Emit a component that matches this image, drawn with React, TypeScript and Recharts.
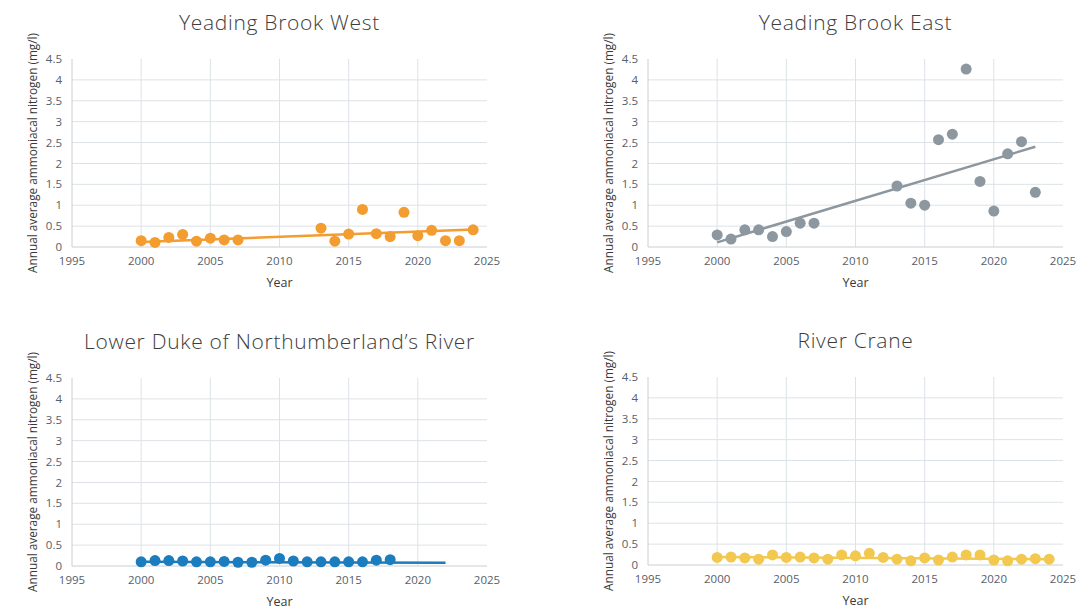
import React from 'react';
import { ScatterChart, Scatter, XAxis, YAxis, ZAxis, CartesianGrid } from 'recharts';

// ---- Data ----
const westYears = [2000, 2001, 2002, 2003, 2004, 2005, 2006, 2007, 2013, 2014, 2015, 2016, 2017, 2018, 2019, 2020, 2021, 2022, 2023, 2024];
const westValues = [0.15, 0.11, 0.23, 0.30, 0.14, 0.21, 0.17, 0.17, 0.45, 0.14, 0.31, 0.90, 0.32, 0.25, 0.83, 0.27, 0.40, 0.15, 0.15, 0.41];
const westTrendYears = [2000, 2024];
const westTrendValues = [0.12, 0.42];

const eastYears = [2000, 2001, 2002, 2003, 2004, 2005, 2006, 2007, 2013, 2014, 2015, 2016, 2017, 2018, 2019, 2020, 2021, 2022, 2023];
const eastValues = [0.29, 0.19, 0.41, 0.41, 0.25, 0.37, 0.57, 0.57, 1.46, 1.05, 1.00, 2.57, 2.70, 4.26, 1.57, 0.86, 2.23, 2.52, 1.31];
const eastTrendYears = [2000, 2023];
const eastTrendValues = [0.11, 2.40];

const dukeYears = [2000, 2001, 2002, 2003, 2004, 2005, 2006, 2007, 2008, 2009, 2010, 2011, 2012, 2013, 2014, 2015, 2016, 2017, 2018];
const dukeValues = [0.10, 0.13, 0.13, 0.12, 0.10, 0.10, 0.11, 0.09, 0.09, 0.14, 0.18, 0.12, 0.10, 0.10, 0.10, 0.10, 0.10, 0.14, 0.15];
const dukeTrendYears = [2000, 2022];
const dukeTrendValues = [0.10, 0.08];

const craneYears = [2000, 2001, 2002, 2003, 2004, 2005, 2006, 2007, 2008, 2009, 2010, 2011, 2012, 2013, 2014, 2015, 2016, 2017, 2018, 2019, 2020, 2021, 2022, 2023, 2024];
const craneValues = [0.18, 0.19, 0.17, 0.14, 0.24, 0.18, 0.19, 0.17, 0.14, 0.24, 0.22, 0.28, 0.18, 0.14, 0.10, 0.17, 0.12, 0.19, 0.24, 0.24, 0.12, 0.10, 0.14, 0.15, 0.14];
const craneTrendYears = [2000, 2024];
const craneTrendValues = [0.19, 0.14];

const xTicks = [1995, 2000, 2005, 2010, 2015, 2020, 2025];
const yTicks = [0, 0.5, 1, 1.5, 2, 2.5, 3, 3.5, 4, 4.5];
const gridX = [2000, 2005, 2010, 2015, 2020];
const gridY = [0.5, 1, 1.5, 2, 2.5, 3, 3.5, 4];

const toPoints = (xs: number[], ys: number[]) => xs.map((x, i) => ({ x, y: ys[i] }));

const FONT = '"Open Sans", "DejaVu Sans", sans-serif';

type PanelProps = {
  title: string;
  left: number;
  top: number;
  color: string;
  points: { x: number; y: number }[];
  trend: { x: number; y: number }[];
};

const Panel = ({ title, left, top, color, points, trend }: PanelProps) => {
  const W = 520;
  const H = 305;
  return (
    <div style={{ position: 'absolute', left, top, width: W, height: H }}>
      <div
        style={{
          position: 'absolute',
          left: 52,
          width: 455,
          top: 9,
          textAlign: 'center',
          fontFamily: FONT,
          fontSize: 21,
          fontWeight: 300,
          letterSpacing: '0.7px',
          lineHeight: '26px',
          color: '#3d3d3d',
          whiteSpace: 'nowrap',
        }}
      >
        {title}
      </div>
      <ScatterChart width={W} height={H} margin={{ top: 59, right: 33, left: 32, bottom: 18 }}>
        <CartesianGrid
          stroke="#dde2e6"
          horizontalValues={gridY}
          verticalValues={gridX}
        />
        <XAxis
          type="number"
          dataKey="x"
          domain={[1995, 2025]}
          ticks={xTicks}
          tickLine={false}
          axisLine={{ stroke: '#c9d0d5' }}
          height={40}
          tick={{ fontSize: 11.5, fill: '#56606a', fontFamily: FONT }}
          tickMargin={4}
          label={{ value: 'Year', position: 'insideBottom', offset: 0, fontSize: 12.5, fill: '#3a3a3a', fontFamily: FONT }}
        />
        <YAxis
          type="number"
          dataKey="y"
          domain={[0, 4.5]}
          ticks={yTicks}
          tickLine={false}
          axisLine={{ stroke: '#c9d0d5' }}
          width={40}
          interval={0}
          tick={{ fontSize: 11.5, fill: '#56606a', fontFamily: FONT }}
          tickMargin={4}
          label={{
            value: 'Annual average ammoniacal nitrogen (mg/l)',
            angle: -90,
            position: 'insideLeft',
            offset: 1,
            fontSize: 11.8,
            fill: '#3a3a3a',
            fontFamily: FONT,
            style: { textAnchor: 'middle' },
          }}
        />
        <ZAxis range={[95, 95]} />
        <Scatter
          data={trend}
          line={{ stroke: color, strokeWidth: 2.5 }}
          shape={() => <g />}
          isAnimationActive={false}
        />
        <Scatter
          data={points}
          fill={color}
          shape={(p: any) => <circle cx={p.cx} cy={p.cy} r={5.5} fill={color} />}
          isAnimationActive={false}
        />
      </ScatterChart>
    </div>
  );
};

export default function App() {
  return (
    <div style={{ position: 'absolute', left: 0, top: 0, width: 1090, height: 611, background: '#fff', overflow: 'hidden' }}>
      <Panel title="Yeading Brook West" left={0} top={0} color="#F39C2F" points={toPoints(westYears, westValues)} trend={toPoints(westTrendYears, westTrendValues)} />
      <Panel title="Yeading Brook East" left={576} top={0} color="#8D979F" points={toPoints(eastYears, eastValues)} trend={toPoints(eastTrendYears, eastTrendValues)} />
      <Panel title="Lower Duke of Northumberland’s River" left={0} top={319} color="#1B7CBE" points={toPoints(dukeYears, dukeValues)} trend={toPoints(dukeTrendYears, dukeTrendValues)} />
      <Panel title="River Crane" left={576} top={318} color="#F2C84E" points={toPoints(craneYears, craneValues)} trend={toPoints(craneTrendYears, craneTrendValues)} />
    </div>
  );
}
